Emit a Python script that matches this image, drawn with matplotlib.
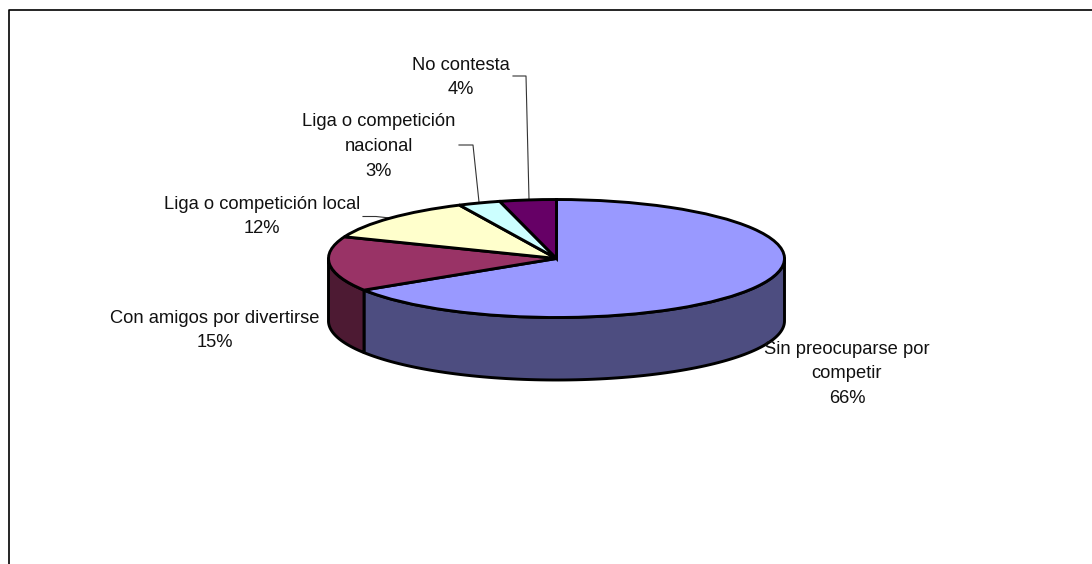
import numpy as np
import matplotlib
matplotlib.use('Agg')
import matplotlib.pyplot as plt
from matplotlib.patches import Polygon

labels = ['Sin preocuparse por\ncompetir', 'Con amigos por divertirse', 'Liga o competición local',
          'Liga o competición\nnacional', 'No contesta']
values = [66, 15, 12, 3, 4]
percents = ['66%', '15%', '12%', '3%', '4%']
top_colors = ['#9999FF', '#993366', '#FFFFCC', '#CCFFFF', '#660066']
side_colors = ['#4D4D80', '#4D1A33']

W, H = 1092, 564
plt.rcParams['font.family'] = ['Liberation Sans', 'DejaVu Sans']

fig = plt.figure(figsize=(W / 100, H / 100), dpi=100)

# pixel axes, for frame and labels
bg = fig.add_axes([0, 0, 1, 1])
bg.set_xlim(0, W)
bg.set_ylim(H, 0)
bg.axis('off')
bg.plot([8.5, 8.5, W], [H, 10, 10], color='black', lw=1.2)

# pie is squashed by the axes, so radius 1 is the ellipse
cx, cy, rx, ry, depth = 556.5, 258.5, 228, 59, 62.5
ax = fig.add_axes([(cx - rx) / W, 1 - (cy + ry) / H, 2 * rx / W, 2 * ry / H])
ax.pie(values, colors=top_colors, startangle=90, counterclock=False, radius=1,
       wedgeprops=dict(edgecolor='black', linewidth=2.1))
ax.set_aspect('auto')
ax.set_xlim(-1, 1)
ax.set_ylim(-1, 1)
for w in ax.patches:
    w.set_clip_on(False)
    w.set_zorder(3)

# side wall, only the front part of the slices shows
edges = 90 - np.cumsum([0] + values) * 3.6
def wall(a0, a1, color):
    t = np.radians(np.linspace(a0, a1, 100))
    x = cx + rx * np.cos(t)
    y = cy - ry * np.sin(t)
    pts = np.column_stack([np.r_[x, x[::-1]], np.r_[y, y[::-1] + depth]])
    bg.add_patch(Polygon(pts, closed=True, facecolor=color, edgecolor='black', lw=2.1, joinstyle='round'))

wall(0, edges[1], side_colors[0])
wall(edges[1], -180, side_colors[1])

# labels
label_pos = [(847, 374), (215, 330.5), (262, 216.5), (379, 146.5), (461, 77.5)]
for name, pct, (x, y) in zip(labels, percents, label_pos):
    bg.text(x, y, name + '\n' + pct, ha='center', va='center', fontsize=13.2, color='#111111',
            linespacing=1.58)

# leader lines
leaders = [([363, 376, 390], [216.5, 216.5, 218]),
           ([459, 473, 479], [145, 145, 202]),
           ([513, 526, 529], [76, 76, 199])]
for xs, ys in leaders:
    bg.plot(xs, ys, color='#333333', lw=0.8)

fig.savefig('out.png', dpi=100)
